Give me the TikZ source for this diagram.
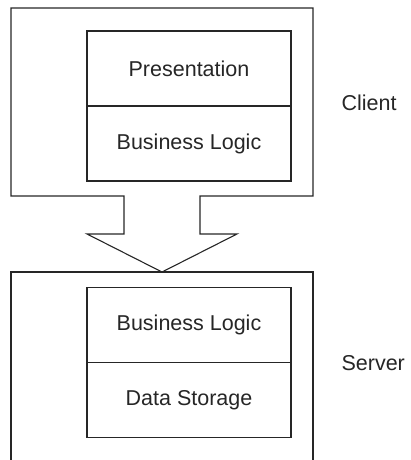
\documentclass[tikz,border=0pt]{standalone}
\usepackage{fontspec}
\setmainfont{Liberation Sans}
\usetikzlibrary{positioning}

\begin{document}
\begin{tikzpicture}[x=1pt,y=-1pt,font=\fontsize{21.5}{25}\selectfont,
  line width=1.1pt,color=black!85,
  layer/.style={draw,minimum width=204pt,minimum height=75pt,inner sep=0pt,outer sep=0pt},
  tier/.style={inner sep=0pt,anchor=west}]
\useasboundingbox (0,0) rectangle (410,460);
\node[layer] (pres) at (189,68.5) {Presentation};
\node[layer,below=0pt of pres] (clogic) {Business Logic};
\node[layer] (slogic) at (189,325) {Business Logic};
\node[layer,below=0pt of slogic] (store) {Data Storage};
\node[tier] (client) at (341,103) {Client};
\node[tier] (server) at (341,363) {Server};
\coordinate (tip) at (162,272);

% client box and the arrow down to the server
\draw (124,196) -- (11,196) -- (11,8) -- (313,8) -- (313,196) -- (200,196)
  -- (200,234) -- (237,234) -- (tip) -- (87,234) -- (124,234) -- cycle;
\draw (11,460) -- (11,272) -- (tip) -- (313,272) -- (313,460);
\end{tikzpicture}
\end{document}
